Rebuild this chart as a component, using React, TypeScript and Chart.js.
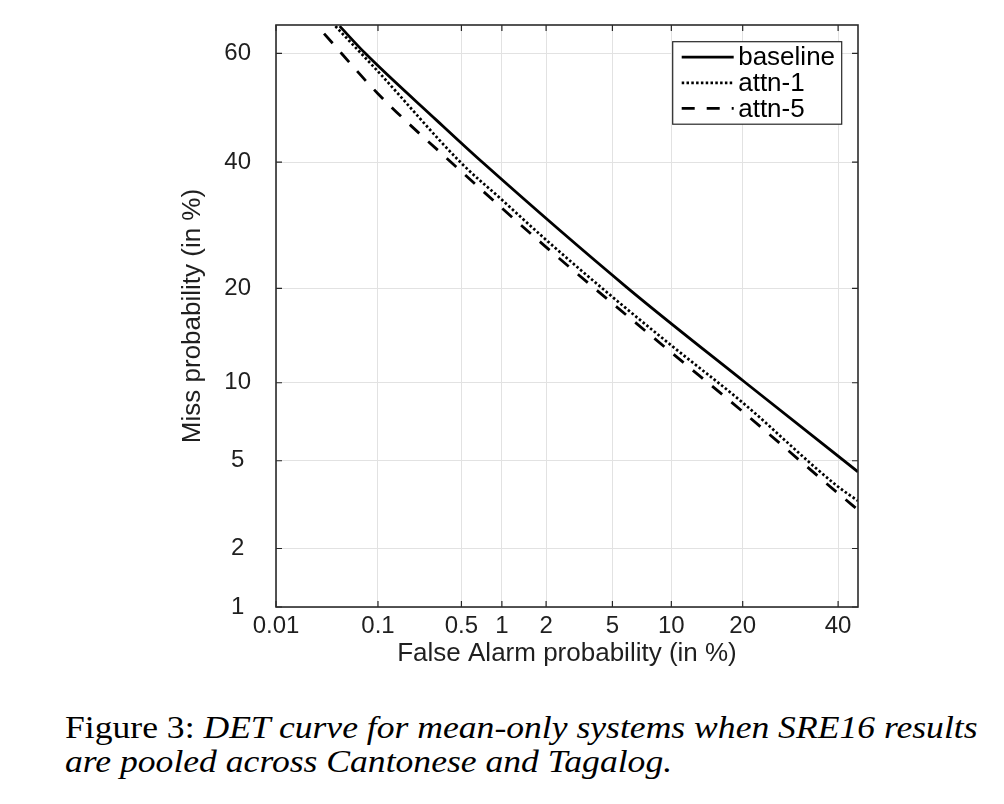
import React, { useEffect, useRef } from "react";
import { Chart, registerables } from "chart.js";

Chart.register(...registerables);

// ---- Data (percentages) ----
const faTicks = [0.01, 0.1, 0.5, 1, 2, 5, 10, 20, 40];
const missTicks = [1, 2, 5, 10, 20, 40, 60];
const faRange = [0.01, 44.8];
const missRange = [1, 65];

const seriesLabels = ["baseline", "attn-1", "attn-5"];

const baselineFA = [0.044, 0.0765, 0.32, 0.718, 6.07, 20.5, 44.8];
const baselineMiss = [64.8, 60, 47.6, 40, 20, 10, 4.49];

const attn1FA = [0.04, 0.1, 0.5, 1, 2, 5, 10, 20, 40, 44.8];
const attn1Miss = [64.8, 56.7, 39.8, 33.4, 26.9, 18.9, 13.4, 8.47, 3.87, 3.35];

const attn5FA = [0.031, 0.1, 0.5, 1, 2, 5, 10, 20, 40, 44.8];
const attn5Miss = [63.5, 52.6, 38.3, 32.0, 25.8, 18.1, 12.7, 7.84, 3.62, 3.05];

const FONT = "'Liberation Sans', Arial, Helvetica, sans-serif";

// inverse normal CDF (Acklam)
function probit(p: number): number {
  const a = [-3.969683028665376e1, 2.209460984245205e2, -2.759285104469687e2, 1.38357751867269e2, -3.066479806614716e1, 2.506628277459239];
  const b = [-5.447609879822406e1, 1.615858368580409e2, -1.556989798598866e2, 6.680131188771972e1, -1.328068155288572e1];
  const c = [-7.784894002430293e-3, -3.223964580411365e-1, -2.400758277161838, -2.549671010029246, 4.374664141464968, 2.938163982698783];
  const d = [7.784695709041462e-3, 3.224671290700398e-1, 2.445134137142996, 3.754408661907416];
  const plow = 0.02425;
  const phigh = 1 - plow;
  let q: number, r: number;
  if (p < plow) {
    q = Math.sqrt(-2 * Math.log(p));
    return (((((c[0] * q + c[1]) * q + c[2]) * q + c[3]) * q + c[4]) * q + c[5]) / ((((d[0] * q + d[1]) * q + d[2]) * q + d[3]) * q + 1);
  }
  if (p <= phigh) {
    q = p - 0.5;
    r = q * q;
    return ((((((a[0] * r + a[1]) * r + a[2]) * r + a[3]) * r + a[4]) * r + a[5]) * q) / (((((b[0] * r + b[1]) * r + b[2]) * r + b[3]) * r + b[4]) * r + 1);
  }
  q = Math.sqrt(-2 * Math.log(1 - p));
  return -(((((c[0] * q + c[1]) * q + c[2]) * q + c[3]) * q + c[4]) * q + c[5]) / ((((d[0] * q + d[1]) * q + d[2]) * q + d[3]) * q + 1);
}
const toZ = (pct: number) => probit(pct / 100);

const toPoints = (fa: number[], miss: number[]) => fa.map((f, i) => ({ x: toZ(f), y: toZ(miss[i]) }));

const boxPlugin = {
  id: "matlabBox",
  afterDatasetsDraw(chart: any) {
    const { ctx, chartArea } = chart;
    const { left, right, top, bottom } = chartArea;
    const xs = chart.scales.x;
    const ys = chart.scales.y;
    ctx.save();
    // tick marks (inside)
    ctx.strokeStyle = "#262626";
    ctx.lineWidth = 1.2;
    ctx.setLineDash([]);
    const tl = 6;
    ctx.beginPath();
    faTicks.forEach((v) => {
      const px = xs.getPixelForValue(toZ(v));
      ctx.moveTo(px, bottom);
      ctx.lineTo(px, bottom - tl);
      ctx.moveTo(px, top);
      ctx.lineTo(px, top + tl);
    });
    missTicks.forEach((v) => {
      const py = ys.getPixelForValue(toZ(v));
      ctx.moveTo(left, py);
      ctx.lineTo(left + tl, py);
      ctx.moveTo(right, py);
      ctx.lineTo(right - tl, py);
    });
    ctx.stroke();
    // box
    ctx.lineWidth = 1.6;
    ctx.strokeStyle = "#2b2b2b";
    ctx.strokeRect(left, top, right - left, bottom - top);

    // legend
    const bw = 169;
    const bh = 82.5;
    const x0 = right - 16.3 - bw;
    const y0 = top + 16.7;
    ctx.fillStyle = "#ffffff";
    ctx.fillRect(x0, y0, bw, bh);
    ctx.lineWidth = 1.2;
    ctx.strokeStyle = "#262626";
    ctx.strokeRect(x0, y0, bw, bh);
    ctx.font = `26px ${FONT}`;
    ctx.textBaseline = "middle";
    ctx.textAlign = "left";
    chart.data.datasets.forEach((ds: any, i: number) => {
      const y = y0 + 15.5 + i * 25.6;
      ctx.save();
      ctx.strokeStyle = ds.borderColor;
      ctx.lineWidth = ds.borderWidth;
      ctx.setLineDash(ds.borderDash || []);
      ctx.beginPath();
      ctx.moveTo(x0 + 9, y);
      ctx.lineTo(x0 + 61, y);
      ctx.stroke();
      ctx.restore();
      ctx.fillStyle = "#000000";
      ctx.fillText(ds.label, x0 + 65.5, y + 1);
    });
    ctx.restore();
  },
};

function DetChart() {
  const ref = useRef<HTMLCanvasElement | null>(null);
  useEffect(() => {
    if (!ref.current) return;
    const chart = new Chart(ref.current, {
      type: "line",
      data: {
        datasets: [
          {
            label: seriesLabels[0],
            data: toPoints(baselineFA, baselineMiss),
            borderColor: "#000000",
            borderWidth: 2.8,
            pointRadius: 0,
            fill: false,
            cubicInterpolationMode: "monotone",
          },
          {
            label: seriesLabels[1],
            data: toPoints(attn1FA, attn1Miss),
            borderColor: "#000000",
            borderWidth: 2.7,
            borderDash: [2.5, 2.3],
            pointRadius: 0,
            fill: false,
            cubicInterpolationMode: "monotone",
          },
          {
            label: seriesLabels[2],
            data: toPoints(attn5FA, attn5Miss),
            borderColor: "#000000",
            borderWidth: 2.8,
            borderDash: [13, 12],
            pointRadius: 0,
            fill: false,
            cubicInterpolationMode: "monotone",
          },
        ],
      },
      options: {
        animation: false,
        responsive: false,
        devicePixelRatio: 1,
        layout: { padding: { left: 168, right: 138, top: 17, bottom: 29 } },
        plugins: { legend: { display: false }, tooltip: { enabled: false } },
        scales: {
          x: {
            type: "linear",
            min: toZ(faRange[0]),
            max: toZ(faRange[1]),
            afterBuildTicks: (s: any) => {
              s.ticks = faTicks.map((v) => ({ value: toZ(v) }));
            },
            afterFit: (s: any) => {
              s.height = 62;
            },
            ticks: {
              autoSkip: false,
              maxRotation: 0,
              minRotation: 0,
              padding: 5,
              color: "#1f1f1f",
              font: { family: FONT, size: 24 },
              callback: (_v: any, i: number) => String(faTicks[i]),
            },
            grid: { color: "#e2e2e2", lineWidth: 1, drawTicks: false },
            border: { display: false },
            title: {
              display: true,
              text: "False Alarm probability (in %)",
              color: "#1f1f1f",
              font: { family: FONT, size: 26 },
              padding: { top: 0, bottom: 0 },
            },
          },
          y: {
            type: "linear",
            min: toZ(missRange[0]),
            max: toZ(missRange[1]),
            afterBuildTicks: (s: any) => {
              s.ticks = missTicks.map((v) => ({ value: toZ(v) }));
            },
            afterFit: (s: any) => {
              s.width = 100;
            },
            ticks: {
              autoSkip: false,
              padding: 0,
              crossAlign: "center",
              color: "#1f1f1f",
              font: { family: FONT, size: 24 },
              callback: (_v: any, i: number) => String(missTicks[i]),
            },
            grid: {
              color: "#e2e2e2",
              lineWidth: 1,
              drawTicks: true,
              tickLength: 25,
              tickColor: "rgba(0,0,0,0)",
            },
            border: { display: false },
            title: {
              display: true,
              text: "Miss probability (in %)",
              color: "#1f1f1f",
              font: { family: FONT, size: 26 },
              padding: { top: 1, bottom: 0 },
            },
          },
        },
      },
      plugins: [boxPlugin],
    } as any);
    return () => chart.destroy();
  }, []);
  return <canvas ref={ref} width={988} height={690} style={{ display: "block", width: 988, height: 690 }} />;
}

export default function App() {
  return (
    <div style={{ position: "relative", width: 988, height: 788 }}>
      <DetChart />
      <div
        style={{
          position: "absolute",
          left: 57,
          top: 702.5,
          fontFamily: "'Liberation Serif', 'Times New Roman', serif",
          fontSize: 31.5,
          lineHeight: "34.4px",
          color: "#000",
          whiteSpace: "nowrap",
          transform: "scaleX(1.13)",
          transformOrigin: "left top",
        }}
      >
        <div>
          Figure 3: <i>DET curve for mean-only systems when SRE16 results</i>
        </div>
        <div>
          <i>are pooled across Cantonese and Tagalog.</i>
        </div>
      </div>
    </div>
  );
}
